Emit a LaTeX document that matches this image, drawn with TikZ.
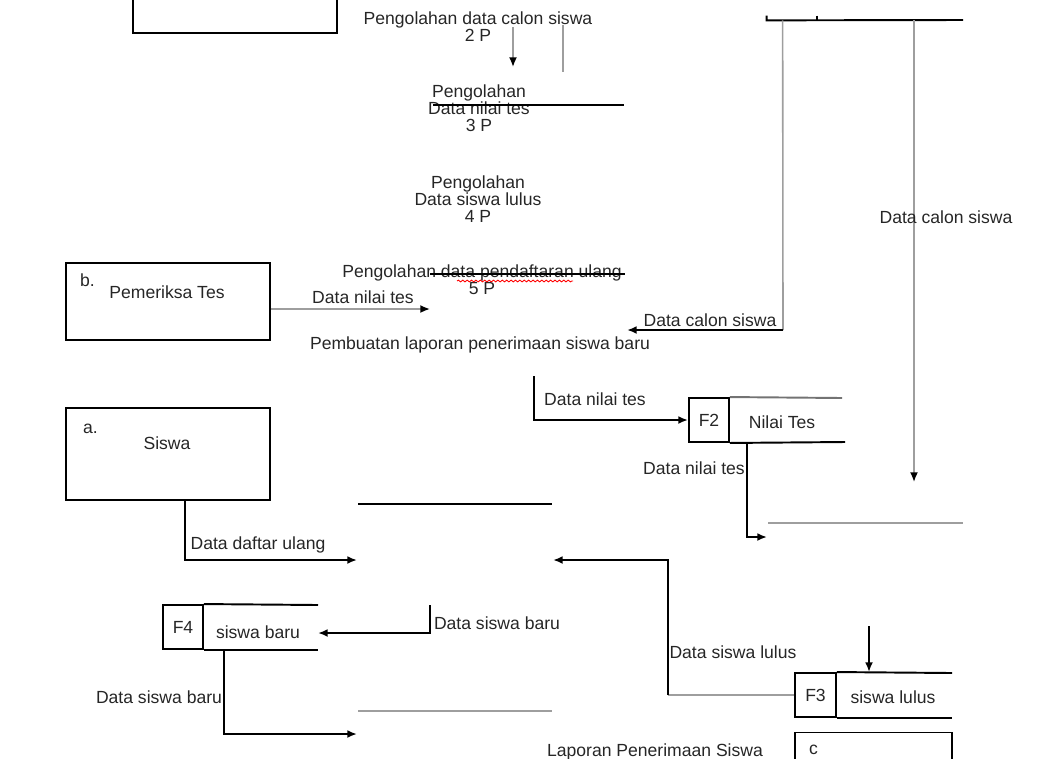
\documentclass[tikz,border=0pt]{standalone}
\usepackage{fontspec}
\setmainfont{Liberation Sans}
\usetikzlibrary{arrows.meta,positioning,decorations.pathmorphing}
\tikzstyle{entitas} = [draw=black, line width=1.1pt, rectangle,
    minimum width=4.08cm, inner sep=0pt]
\tikzstyle{kodesimpan} = [draw=black, line width=1.1pt, rectangle,
    minimum width=0.8cm, minimum height=0.88cm, inner sep=0pt,
    font=\fontsize{10}{9.6}\selectfont, text=black!85]
\tikzstyle{teks} = [font=\fontsize{10}{9.6}\selectfont, text=black!85,
    inner sep=1pt, align=center]
\tikzstyle{garis} = [line width=1.1pt]
\tikzstyle{garisabu} = [draw=black!38, line width=0.9pt]
\tikzstyle{alur} = [line width=1.1pt, -{Latex[length=5.5pt,width=4.5pt]}]
\tikzstyle{alurabu} = [draw=black!38, line width=0.9pt,
    -{Latex[length=5.5pt,width=4.5pt,color=black]}]

\begin{document}
\begin{tikzpicture}[x=0.02cm, y=-0.02cm]
    \useasboundingbox (0,0) rectangle (1064,758);
    \clip (0,0) rectangle (1064,758);

    % entitas luar
    \node[entitas, minimum height=1.6cm] (ent0) at (235,-7) {};
    \node[entitas, minimum height=1.54cm] (pemeriksa) at (168,301.5) {};
    \node[teks, below right=0.2cm and 0.26cm of pemeriksa.north west] (kodeb) {b.};
    \node[teks] (namab) at (167,292) {Pemeriksa Tes};
    \node[entitas, minimum height=1.84cm] (siswa) at (168,454) {};
    \node[teks, below right=0.3cm and 0.32cm of siswa.north west] (kodea) {a.};
    \node[teks] (namaa) at (167,443) {Siswa};
    \node[entitas, minimum width=3.14cm, minimum height=1.5cm] (entc) at (873.5,770) {};
    \node[teks, below right=0.22cm and 0.26cm of entc.north west] (kodec) {c};

    % proses
    \node[teks] (p2) at (478,26.5) {Pengolahan data calon siswa\\2 P};
    \node[teks] (p3) at (479,108) {Pengolahan\\Data nilai tes\\3 P};
    \node[teks] (p4) at (478,199) {Pengolahan\\Data siswa lulus\\4 P};
    \node[teks] (p5) at (482,279.5) {Pengolahan data pendaftaran ulang\\5 P};
    \node[teks] (p6) at (480,345) {Pembuatan laporan penerimaan siswa baru};
    \node[teks] (p7) at (655,752) {Laporan Penerimaan Siswa};

    % penyimpanan
    \node[minimum width=1cm, minimum height=0.08cm, inner sep=0pt] (f1) at (792,18) {};
    \node[kodesimpan] (f2) at (709,420) {F2};
    \node[teks] (f2n) at (782,422) {Nilai Tes};
    \node[kodesimpan] (f4) at (183,627) {F4};
    \node[teks] (f4n) at (258,632) {siswa baru};
    \node[kodesimpan, minimum width=0.82cm] (f3) at (815.5,695) {F3};
    \node[teks] (f3n) at (893,697) {siswa lulus};

    % titik bantu
    \coordinate (f1ujung) at (963,20);
    \coordinate (f2atas) at (842,398);
    \coordinate (f2bawah) at (845,442);
    \coordinate (f4ujung) at (318,605);
    \coordinate (f3ujung) at (952,673);
    \coordinate (a1) at (513,27);
    \coordinate (a2) at (513,67);
    \coordinate (g1) at (563,25);
    \coordinate (g2) at (563,72);
    \coordinate (l3a) at (433,105);
    \coordinate (l3b) at (624,105);
    \coordinate (l5a) at (430,274);
    \coordinate (l5b) at (625,274);
    \coordinate (w1) at (457,281);
    \coordinate (w2) at (573,281);
    \coordinate (p6masuk) at (430,309);
    \coordinate (k1) at (783,330);
    \coordinate (p6kanan) at (627,330);
    \coordinate (k2a) at (914,20);
    \coordinate (k2b) at (914,482);
    \coordinate (dn1) at (534,376);
    \coordinate (dn2) at (767,537);
    \coordinate (h1a) at (768,523);
    \coordinate (h1b) at (963,523);
    \coordinate (h2a) at (358,504);
    \coordinate (h2b) at (552,504);
    \coordinate (h3a) at (358,711);
    \coordinate (h3b) at (552,711);
    \coordinate (du) at (357,560);
    \coordinate (sb1) at (430,605);
    \coordinate (f4masuk) at (318,633);
    \coordinate (sb2) at (357,734);
    \coordinate (sl1) at (668,695);
    \coordinate (sl2) at (553,560);
    \coordinate (sl0) at (869,626);

    % garis simpanan dan proses
    \draw[garis] (f1.north west) -- (f1.south west) -- (f1ujung);
    \draw[garis] (f1.north east) -- (f1.south east);
    \draw[garis, draw=black!55] (f2.north east) -- (f2atas);
    \draw[garis] (f2.south east) -- (f2bawah);
    \draw[garis] (f4.north east) -- (f4ujung);
    \draw[garis] (f4.south east) -- (f4ujung |- f4.south);
    \draw[garis] (f3.north east) -- (f3ujung);
    \draw[garis] (f3.south east) -- (f3ujung |- f3.south);
    \draw[garis] (l3a) -- (l3b);
    \draw[garis] (l5a) -- (l5b);
    \draw[red, line width=0.5pt, decorate,
        decoration={snake, amplitude=0.5pt, segment length=2.5pt}] (w1) -- (w2);
    \draw[garis] (h2a) -- (h2b);
    \draw[garisabu] (h1a) -- (h1b);
    \draw[garisabu] (h3a) -- (h3b);

    % aliran data
    \draw[alurabu] (a1) -- (a2);
    \draw[garisabu] (g1) -- (g2);
    \draw[alurabu] (pemeriksa.east |- p6masuk) -- (p6masuk);
    \draw[garisabu] ([xshift=0.32cm]f1.south west) -- (k1);
    \draw[alur] (k1) -- (p6kanan);
    \draw[alurabu] (k2a) -- (k2b);
    \draw[alur] (dn1) |- (f2.west);
    \draw[alur] ([xshift=0.34cm]f2.south east) |- (dn2);
    \draw[alur] ([xshift=0.34cm]siswa.south) |- (du);
    \draw[alur] (sb1) |- (f4masuk);
    \draw[alur] ([xshift=0.4cm]f4.south east) |- (sb2);
    \draw[garisabu] (f3.west) -- (sl1);
    \draw[alur] (sl1) |- (sl2);
    \draw[alur] (sl0) -- (sl0 |- f3.north);

    % label aliran
    \node[teks] (lb1) at (363,297) {Data nilai tes};
    \node[teks] (lb2) at (710,320) {Data calon siswa};
    \node[teks] (lb3) at (946,217) {Data calon siswa};
    \node[teks] (lb4) at (595,399) {Data nilai tes};
    \node[teks] (lb5) at (694,468) {Data nilai tes};
    \node[teks] (lb6) at (258,545) {Data daftar ulang};
    \node[teks] (lb7) at (497,623) {Data siswa baru};
    \node[teks] (lb8) at (159,697) {Data siswa baru};
    \node[teks] (lb9) at (733,652) {Data siswa lulus};
\end{tikzpicture}
\end{document}
